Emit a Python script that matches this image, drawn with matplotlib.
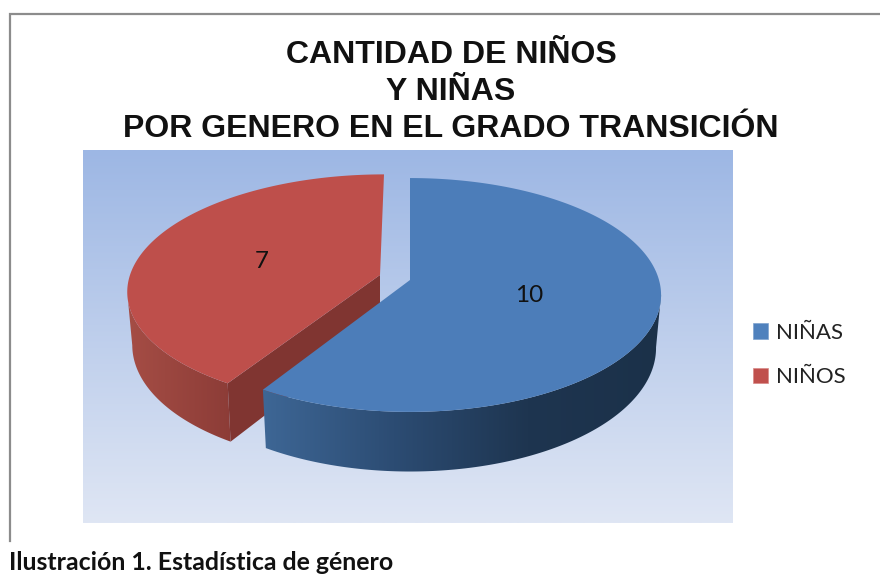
import numpy as np
import matplotlib
matplotlib.use("Agg")
import matplotlib.pyplot as plt
from matplotlib.colors import LinearSegmentedColormap
from matplotlib.patches import Patch, Polygon

title_lines = ["CANTIDAD DE NIÑOS", "Y NIÑAS", "POR GENERO EN EL GRADO TRANSICIÓN"]
labels = ["NIÑAS", "NIÑOS"]
values = [10, 7]
caption = "Ilustración 1. Estadística de género"

W, H = 880, 587
K = 0.128  # perspective
DEPTH = 52
BOTTOM = 0.98


def project(angles, cx, cy, r, s, shear=0.0, depth=0.0):
	u, v = np.sin(angles), np.cos(angles)
	w = 1 + K * v
	scale = BOTTOM if depth else 1.0
	x = cx + scale * r * u / w + shear * v
	y = cy - s * v / w + depth / w
	return np.column_stack([x, y])


def gradient(ax, poly, colors, extent, vertical=False):
	cmap = LinearSegmentedColormap.from_list("g", colors)
	data = np.linspace(0, 1, 256)
	data = data.reshape(-1, 1) if vertical else data.reshape(1, -1)
	im = ax.imshow(data, cmap=cmap, extent=extent, aspect="auto", zorder=poly.get_zorder())
	im.set_clip_path(poly)
	return im


fig = plt.figure(figsize=(W / 100, H / 100), dpi=100, facecolor="white")
ax = fig.add_axes([0, 0, 1, 1])
ax.axis("off")

# plot area
area = Polygon([(83, 150), (733, 150), (733, 523), (83, 523)], closed=True, fc="none", ec="none", zorder=1)
ax.add_patch(area)
gradient(ax, area, ["#9DB7E4", "#DFE6F4"], (83, 733, 523, 150), vertical=True)

# chart frame, cut at the left and top
ax.plot([10, 10, 880], [541, 14, 14], color="#8C8C8C", lw=1.6, solid_joinstyle="miter", zorder=2)

sweep = np.array(values) / sum(values) * 2 * np.pi
split = sweep[0]

# red slice
red_arc = np.linspace(split, 2 * np.pi, 300)
red_kw = dict(cx=379, cy=275, r=249, s=113.5, shear=5)
red_top = project(red_arc, **red_kw)
red_low = project(red_arc, depth=DEPTH, **red_kw)
# wall only up to the outer silhouette
i_top, i_low = np.argmin(red_top[:, 0]), np.argmin(red_low[:, 0])
red_wall = Polygon(np.vstack([red_top[:i_top + 1], red_low[:i_low + 1][::-1]]), closed=True, fc="none", ec="none",
				   zorder=3)
ax.add_patch(red_wall)
gradient(ax, red_wall, ["#A54D45", "#8C3C37"], (128, 232, 500, 150))
apex_r = np.array([[380, 275]])
cut_r = np.vstack([apex_r, red_top[:1], red_low[:1], apex_r + [0, DEPTH]])
ax.add_patch(Polygon(cut_r, closed=True, fc="#803531", ec="none", zorder=4))
ax.add_patch(Polygon(np.vstack([apex_r, red_top]), closed=True, fc="#BE4F4B", ec="none", zorder=5))

# blue slice
blue_arc = np.linspace(split, 0, 400)
blue_kw = dict(cx=410, cy=280, r=249, s=115)
blue_top = project(blue_arc, **blue_kw)
blue_low = project(blue_arc, depth=DEPTH, **blue_kw)
i_top, i_low = np.argmax(blue_top[:, 0]), np.argmax(blue_low[:, 0])
blue_wall = Polygon(np.vstack([blue_top[:i_top + 1], blue_low[:i_low + 1][::-1]]), closed=True, fc="none", ec="none",
					zorder=6)
ax.add_patch(blue_wall)
gradient(ax, blue_wall, ["#3E6796", "#2C4C73", "#1E3550", "#1B3149"], (260, 662, 500, 150))
ax.add_patch(Polygon(np.vstack([[[410, 280]], blue_top]), closed=True, fc="#4C7DB9", ec="none", zorder=7))

# value labels
ax.text(529, 296, str(values[0]), fontsize=17.5, family="Lato", ha="center", va="center", color="#111111", zorder=8)
ax.text(262, 262, str(values[1]), fontsize=17.5, family="Lato", ha="center", va="center", color="#111111", zorder=8)

# title
for line, y in zip(title_lines, [55, 92, 129]):
	ax.text(451, y, line, fontsize=23, fontweight="bold", family="Liberation Sans", ha="center", va="center",
			color="#111111", zorder=8)

handles = [Patch(fc="#4F81BD", ec="#7FA3D0", lw=0.5), Patch(fc="#C0504D", ec="#D98A88", lw=0.5)]
ax.legend(handles, labels, loc="center left", bbox_to_anchor=(753 / W, 1 - 355 / H), frameon=False,
		  handlelength=0.66, handleheight=0.72, handletextpad=0.37, labelspacing=1.1, borderpad=0, borderaxespad=0,
		  prop={"family": "Lato", "size": 16}, labelcolor="#222222")

ax.text(9, 562, caption, fontsize=17.9, fontweight="bold", family="Lato", ha="left", va="center", color="#111111")

ax.set_xlim(0, W)
ax.set_ylim(H, 0)
fig.savefig("out.png", dpi=100, facecolor="white")
